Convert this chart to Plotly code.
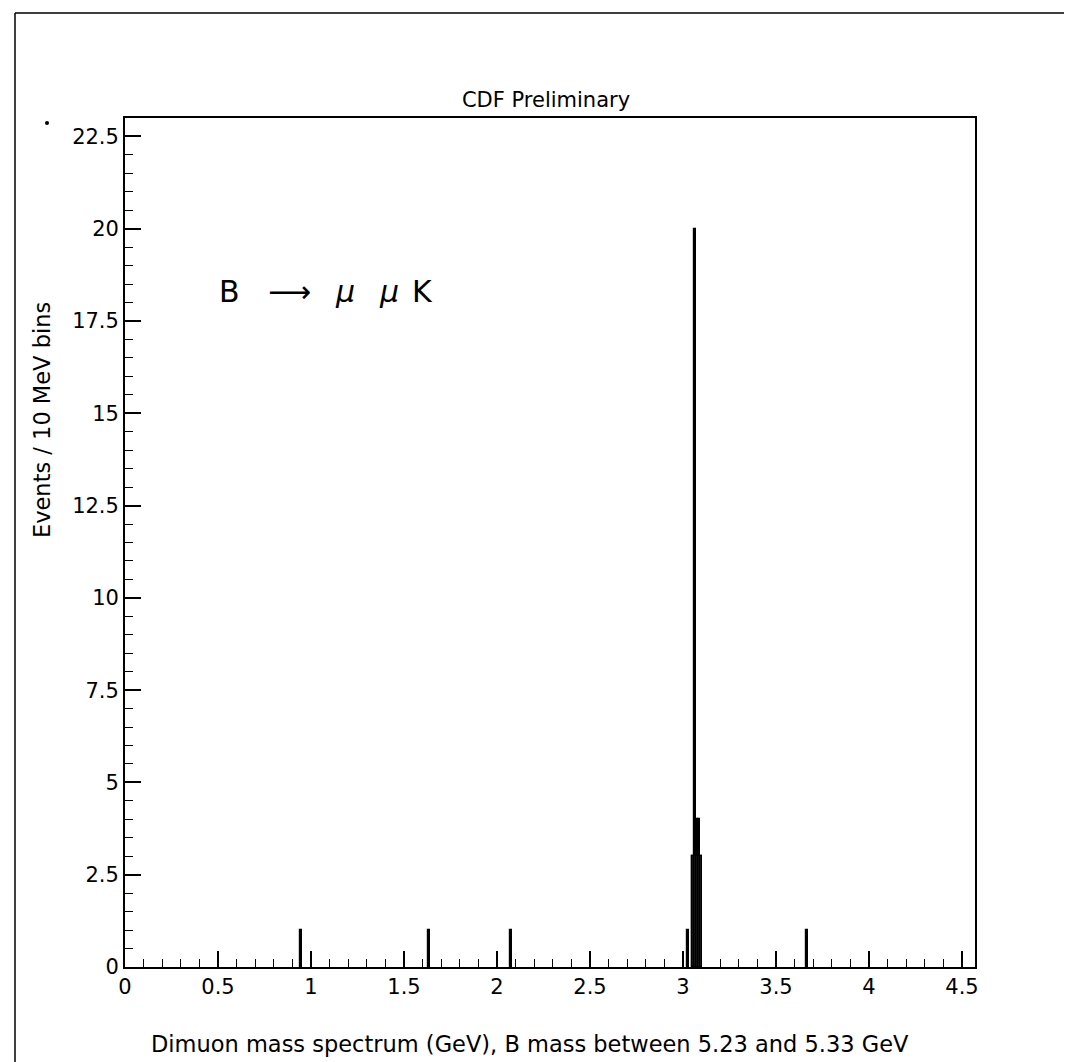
import plotly.graph_objects as go

# Histogram data (10 MeV bins): lower bin edges in GeV and counts
bin_low = [0.94, 1.63, 2.07, 3.02, 3.05, 3.06, 3.07, 3.08, 3.09, 3.66]
counts = [1, 1, 1, 1, 3, 20, 4, 4, 3, 1]
# shaded (signal) histogram
shaded_low = [3.05, 3.06, 3.07, 3.08, 3.09]
shaded_counts = [3, 3, 3, 3, 3]
bin_width = 0.01

x_ticks = [0, 0.5, 1, 1.5, 2, 2.5, 3, 3.5, 4, 4.5]
x_labels = ["0", "0.5", "1", "1.5", "2", "2.5", "3", "3.5", "4", "4.5"]
y_ticks = [0, 2.5, 5, 7.5, 10, 12.5, 15, 17.5, 20, 22.5]
y_labels = ["0", "2.5", "5", "7.5", "10", "12.5", "15", "17.5", "20", "22.5"]

FONT = "DejaVu Sans"
L, R, T, B = 117, 967, 110, 959
PW, PH = R - L, B - T


def px(xp):
    return (xp - L) / PW


def py(yp):
    return (B - yp) / PH


fig = go.Figure()
fig.add_trace(go.Bar(
    x=[b + bin_width / 2 for b in bin_low], y=counts, width=bin_width,
    marker=dict(color="black", line=dict(color="black", width=1.2)),
    showlegend=False, hoverinfo="skip"))
fig.add_trace(go.Bar(
    x=[b + bin_width / 2 for b in shaded_low], y=shaded_counts, width=bin_width,
    marker=dict(color="#1c1c1c", line=dict(color="black", width=1.2)),
    showlegend=False, hoverinfo="skip"))

fig.update_layout(
    width=1072, height=1062,
    margin=dict(l=L, r=1072 - R, t=T, b=1062 - B),
    paper_bgcolor="white", plot_bgcolor="white",
    barmode="overlay", bargap=0,
    font=dict(family=FONT, color="black"),
    title=dict(text="CDF Preliminary", x=538 / 1072, xanchor="center",
               y=1 - 92 / 1062, yanchor="middle",
               font=dict(size=21, family=FONT, color="black")),
    xaxis=dict(range=[0, 4.57], showgrid=False, zeroline=False,
               showline=True, linecolor="black", linewidth=1.8, mirror=True,
               ticks="inside", ticklen=16, tickwidth=1.5, tickcolor="black",
               tickvals=x_ticks, ticktext=x_labels,
               tickfont=dict(size=21, family=FONT),
               minor=dict(dtick=0.1, tick0=0, ticks="inside", ticklen=8,
                          tickwidth=1.2, tickcolor="black", showgrid=False)),
    yaxis=dict(range=[0, 23.0], showgrid=False, zeroline=False,
               showline=True, linecolor="black", linewidth=1.8, mirror=True,
               ticks="inside", ticklen=16, tickwidth=1.5, tickcolor="black",
               tickvals=y_ticks, ticktext=y_labels,
               tickfont=dict(size=21, family=FONT),
               minor=dict(dtick=0.5, tick0=0, ticks="inside", ticklen=8,
                          tickwidth=1.2, tickcolor="black", showgrid=False)),
)

# axis titles
fig.add_annotation(text="Dimuon mass spectrum (GeV), B mass between 5.23 and 5.33 GeV",
                   xref="paper", yref="paper", x=px(522), y=py(1036),
                   xanchor="center", yanchor="middle", showarrow=False,
                   font=dict(size=22.5, family=FONT, color="black"))
fig.add_annotation(text="Events / 10 MeV bins", textangle=-90,
                   xref="paper", yref="paper", x=px(34), y=py(412),
                   xanchor="center", yanchor="middle", showarrow=False,
                   font=dict(size=22.5, family=FONT, color="black"))

# decay label, glyph by glyph to match the wide spacing
decay_parts = ["B", "\u27f6", "<i>\u03bc</i>", "<i>\u03bc</i>", "K"]
decay_centres = [221, 281, 337, 381, 414]
for part, cx in zip(decay_parts, decay_centres):
    fig.add_annotation(text=part, xref="paper", yref="paper",
                       x=px(cx), y=py(283), xanchor="center", yanchor="middle",
                       showarrow=False,
                       font=dict(size=30, family=FONT, color="black"))

# outer page frame (scanned box)
fig.add_shape(type="line", xref="paper", yref="paper",
              x0=px(7), x1=px(7), y0=py(1062), y1=py(5),
              line=dict(color="black", width=1.5))
fig.add_shape(type="line", xref="paper", yref="paper",
              x0=px(7), x1=px(1070), y0=py(5), y1=py(5),
              line=dict(color="black", width=1.5))
fig.add_shape(type="line", xref="paper", yref="paper",
              x0=px(1070), x1=px(1070), y0=py(700), y1=py(5),
              line=dict(color="black", width=1.5))
# small scan dot
fig.add_shape(type="circle", xref="paper", yref="paper",
              x0=px(37), x1=px(41), y0=py(117), y1=py(113),
              fillcolor="black", line=dict(color="black", width=0))

fig.write_html("out.html")
